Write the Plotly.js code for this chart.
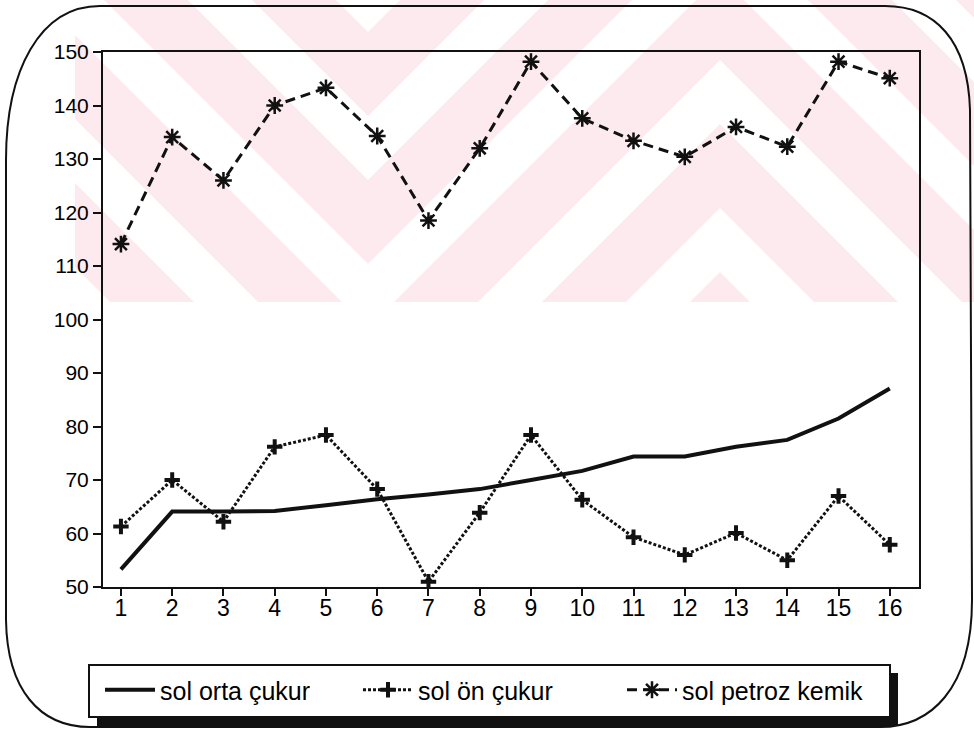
<!DOCTYPE html>
<html>
<head>
<meta charset="utf-8">
<script src="https://cdn.plot.ly/plotly-3.0.1.min.js"></script>
<style>html,body{margin:0;padding:0;background:#fff;}</style>
</head>
<body>
<div id="chart" style="width:974px;height:732px;"></div>
<script>
// ---- data ----
const xValues = [1, 2, 3, 4, 5, 6, 7, 8, 9, 10, 11, 12, 13, 14, 15, 16];
const xTickLabels = ['1','2','3','4','5','6','7','8','9','10','11','12','13','14','15','16'];
const solOrtaCukur = [53.3, 64.1, 64.1, 64.2, 65.3, 66.4, 67.3, 68.3, 70.0, 71.7, 74.4, 74.4, 76.2, 77.5, 81.5, 87.1];
const solOnCukur = [61.3, 70.0, 62.2, 76.2, 78.4, 68.3, 51.0, 63.9, 78.4, 66.3, 59.3, 56.0, 60.1, 55.0, 67.0, 57.9];
const solPetrozKemik = [114.1, 134.1, 126.0, 140.0, 143.3, 134.3, 118.5, 132.0, 148.2, 137.6, 133.4, 130.4, 136.0, 132.3, 148.2, 145.1];
const seriesNames = ['sol orta çukur', 'sol ön çukur', 'sol petroz kemik'];
const yTickValues = [50, 60, 70, 80, 90, 100, 110, 120, 130, 140, 150];

// ---- geometry helpers (page pixels -> paper) ----
const W = 974, H = 732;
const M = {l: 103, r: 55, t: 52, b: 145};
const PW = W - M.l - M.r, PH = H - M.t - M.b;
const px = x => (x - M.l) / PW;
const py = y => (H - M.b - y) / PH;

function clip(poly, xmin, xmax, ymin, ymax) {
  const edges = [
    [p => p[0] >= xmin, (a, b) => { const t = (xmin - a[0]) / (b[0] - a[0]); return [xmin, a[1] + t * (b[1] - a[1])]; }],
    [p => p[0] <= xmax, (a, b) => { const t = (xmax - a[0]) / (b[0] - a[0]); return [xmax, a[1] + t * (b[1] - a[1])]; }],
    [p => p[1] >= ymin, (a, b) => { const t = (ymin - a[1]) / (b[1] - a[1]); return [a[0] + t * (b[0] - a[0]), ymin]; }],
    [p => p[1] <= ymax, (a, b) => { const t = (ymax - a[1]) / (b[1] - a[1]); return [a[0] + t * (b[0] - a[0]), ymax]; }]
  ];
  let out = poly;
  for (const [inside, inter] of edges) {
    const inp = out; out = [];
    for (let i = 0; i < inp.length; i++) {
      const cur = inp[i], prev = inp[(i + inp.length - 1) % inp.length];
      if (inside(cur)) { if (!inside(prev)) out.push(inter(prev, cur)); out.push(cur); }
      else if (inside(prev)) out.push(inter(prev, cur));
    }
    if (!out.length) break;
  }
  return out;
}
function pathOf(pts) {
  return 'M' + pts.map(p => px(p[0]).toFixed(5) + ',' + py(p[1]).toFixed(5)).join('L') + 'Z';
}
function P(x, y) { return px(x).toFixed(5) + ',' + py(y).toFixed(5); }

const shapes = [];
// watermark of the scanned page: pink field crossed by white zig-zag stripes
const WM = {x0: 75, x1: 974, y0: 0, y1: 302};
shapes.push({type: 'rect', xref: 'paper', yref: 'paper', layer: 'below',
  x0: px(WM.x0), x1: px(WM.x1), y0: py(WM.y1), y1: py(WM.y0),
  fillcolor: '#fceaee', line: {width: 0}});
const folds = [16, 368, 720, 1072];           // alternating fold points of the zig-zag
const gOf = x => { const t = (((x - 368) % 704) + 704) % 704; return t <= 352 ? t : 704 - t; };
const bandStarts = [-32, 116, 264, 412, 560];
const bandWidth = 64;
bandStarts.forEach(v0 => {
  const v1 = v0 + bandWidth;
  const xs = [0].concat(folds).concat([1000]);
  const top = xs.map(x => [x, v0 - gOf(x)]);
  const bot = xs.slice().reverse().map(x => [x, v1 - gOf(x)]);
  const cl = clip(top.concat(bot), WM.x0, WM.x1, WM.y0, WM.y1);
  if (cl.length > 2) shapes.push({type: 'path', xref: 'paper', yref: 'paper', layer: 'below',
    path: pathOf(cl), fillcolor: '#ffffff', line: {width: 0}});
});

// rounded outer frame
shapes.push({type: 'path', xref: 'paper', yref: 'paper', layer: 'above',
  path: 'M' + P(100, 6) + 'L' + P(885, 6) + 'C' + P(935, 6) + ' ' + P(968, 40) + ' ' + P(970, 110) +
        'L' + P(972, 600) + 'C' + P(972, 690) + ' ' + P(930, 727) + ' ' + P(880, 727) +
        'L' + P(90, 727) + 'C' + P(40, 727) + ' ' + P(7, 690) + ' ' + P(6, 620) +
        'L' + P(6, 160) + 'C' + P(6, 70) + ' ' + P(40, 6) + ' ' + P(100, 6) + 'Z',
  line: {color: '#111', width: 2}, fillcolor: 'rgba(0,0,0,0)'});
// legend box with its heavy shadow
shapes.push({type: 'rect', xref: 'paper', yref: 'paper', layer: 'below',
  x0: px(97), x1: px(898), y0: py(726), y1: py(673), fillcolor: '#111', line: {width: 0}});
shapes.push({type: 'rect', xref: 'paper', yref: 'paper', layer: 'below',
  x0: px(89), x1: px(890), y0: py(717), y1: py(665), fillcolor: '#ffffff', line: {color: '#111', width: 2}});

const font = {family: 'Liberation Sans, Arial, sans-serif', color: '#000'};

const traces = [
  {x: xValues, y: solOrtaCukur, name: seriesNames[0], type: 'scatter', mode: 'lines',
   line: {color: '#111', width: 4}, legend: 'legend'},
  {x: xValues, y: solOnCukur, name: seriesNames[1], type: 'scatter', mode: 'lines+markers',
   line: {color: '#111', width: 3, dash: '3px,2px'},
   marker: {symbol: 'cross-thin-open', size: 11, line: {color: '#111', width: 4}}, legend: 'legend2'},
  {x: xValues, y: solPetrozKemik, name: seriesNames[2], type: 'scatter', mode: 'lines+markers',
   line: {color: '#111', width: 3, dash: '10px,6px'},
   marker: {symbol: 'asterisk-open', size: 14, line: {color: '#111', width: 2.5}}, legend: 'legend3'}
];

function legendAt(xpix) {
  return {x: px(xpix), y: py(690), xanchor: 'left', yanchor: 'middle', orientation: 'h',
    bgcolor: 'rgba(0,0,0,0)', borderwidth: 0, itemwidth: 50,
    font: Object.assign({size: 25}, font)};
}

const layout = {
  width: W, height: H,
  margin: M,
  paper_bgcolor: '#ffffff',
  plot_bgcolor: 'rgba(0,0,0,0)',
  showlegend: true,
  font: Object.assign({size: 21}, font),
  xaxis: {
    range: [0.65, 16.57], tickmode: 'array', tickvals: xValues, ticktext: xTickLabels,
    showgrid: false, zeroline: false, showline: true, mirror: true,
    linecolor: '#111', linewidth: 2, ticks: 'outside', ticklen: 7, tickwidth: 2, tickcolor: '#111',
    ticklabelstandoff: -8,
    tickfont: Object.assign({size: 23}, font)
  },
  yaxis: {
    range: [50, 150], tickmode: 'array', tickvals: yTickValues,
    showgrid: false, zeroline: false, showline: true, mirror: true,
    linecolor: '#111', linewidth: 2, ticks: 'outside', ticklen: 8, tickwidth: 2, tickcolor: '#111',
    tickfont: Object.assign({size: 21}, font)
  },
  legend: legendAt(100),
  legend2: legendAt(358),
  legend3: legendAt(622),
  shapes: shapes
};

Plotly.newPlot('chart', traces, layout, {displayModeBar: false, staticPlot: true});
</script>
</body>
</html>
